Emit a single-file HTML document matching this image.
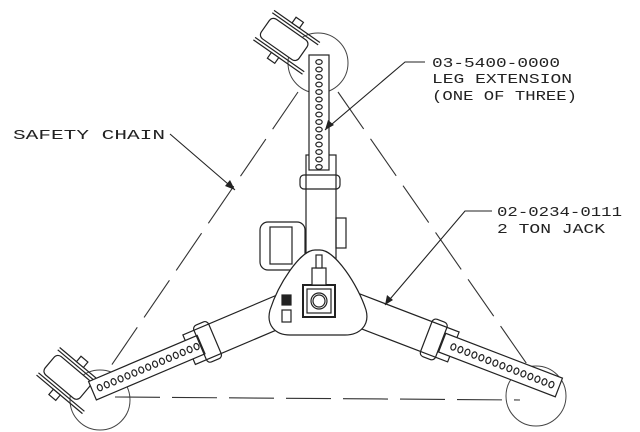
<!DOCTYPE html>
<html><head><style>body{margin:0;background:#fff;overflow:hidden}svg{display:block}</style></head><body>
<svg width="640" height="432" viewBox="0 0 640 432" xmlns="http://www.w3.org/2000/svg">
<defs>
<g id="holes" fill="none" stroke="#222" stroke-width="1.2">
  <ellipse cx="0" cy="0" rx="3.2" ry="2.4"/><ellipse cx="0" cy="7.5" rx="3.2" ry="2.4"/>
  <ellipse cx="0" cy="15" rx="3.2" ry="2.4"/><ellipse cx="0" cy="22.5" rx="3.2" ry="2.4"/>
  <ellipse cx="0" cy="30" rx="3.2" ry="2.4"/><ellipse cx="0" cy="37.5" rx="3.2" ry="2.4"/>
  <ellipse cx="0" cy="45" rx="3.2" ry="2.4"/><ellipse cx="0" cy="52.5" rx="3.2" ry="2.4"/>
  <ellipse cx="0" cy="60" rx="3.2" ry="2.4"/><ellipse cx="0" cy="67.5" rx="3.2" ry="2.4"/>
  <ellipse cx="0" cy="75" rx="3.2" ry="2.4"/><ellipse cx="0" cy="82.5" rx="3.2" ry="2.4"/>
  <ellipse cx="0" cy="90" rx="3.2" ry="2.4"/><ellipse cx="0" cy="97.5" rx="3.2" ry="2.4"/>
  <ellipse cx="0" cy="105" rx="3.2" ry="2.4"/>
</g>
<g id="bracket" fill="#fff" stroke="#222" stroke-width="1.2">
  <line x1="-26" y1="15" x2="34" y2="15"/><line x1="-26" y1="18" x2="34" y2="18"/>
  <line x1="-26" y1="-15" x2="30" y2="-15"/><line x1="-26" y1="-18" x2="30" y2="-18"/>
  <rect x="-24" y="-12" width="46" height="24" rx="5"/>
  <rect x="-4" y="18" width="9" height="7"/><rect x="-4" y="-25" width="9" height="7"/>
</g>
</defs>
<g stroke="#444" stroke-width="1" fill="none">
  <circle cx="318" cy="63" r="30"/>
  <circle cx="100" cy="400" r="30"/>
  <circle cx="536" cy="396" r="30"/>
</g>
<g stroke="#333" stroke-width="1.1" stroke-dasharray="45,12" fill="none">
  <line x1="298" y1="92" x2="100" y2="382"/>
  <line x1="338" y1="92" x2="538" y2="380"/>
  <line x1="115" y1="397" x2="520" y2="400"/>
</g>
<use href="#bracket" transform="translate(285,40) rotate(35)"/>
<use href="#bracket" transform="translate(68,378) rotate(40)"/>
<g fill="#fff" stroke="#222" stroke-width="1.2">
  <g transform="translate(318,295)">
    <rect x="-12" y="-140" width="30" height="110"/>
    <rect x="-9" y="-240" width="20" height="115"/>
    <use href="#holes" transform="translate(1,-233)"/>
    <rect x="-18" y="-120" width="40" height="14" rx="4" fill="none"/>
  </g>
  <g transform="translate(318,295) rotate(-113)">
    <rect x="-16" y="-140" width="32" height="110"/>
    <rect x="-10" y="-245" width="20" height="118"/>
    <use href="#holes" transform="translate(0,-237)"/>
    <rect x="-20" y="-128" width="40" height="16" rx="4" fill="none"/>
  </g>
  <g transform="translate(318,295) rotate(111)">
    <rect x="-16" y="-145" width="32" height="110"/>
    <rect x="-10" y="-258" width="20" height="125"/>
    <use href="#holes" transform="translate(0,-250)"/>
    <rect x="-20" y="-132" width="40" height="16" rx="4" fill="none"/>
  </g>
</g>
<g fill="#fff" stroke="#222" stroke-width="1.2">
  <rect x="260" y="222" width="45" height="48" rx="8"/>
  <rect x="270" y="227" width="22" height="37" fill="none"/>
  <rect x="336" y="218" width="10" height="30" fill="none"/>
  <path d="M315 250 C300 250 278 285 270 310 C266 325 275 335 290 335 L345 335 C360 335 370 325 366 310 C358 285 335 250 320 250 Z"/>
  <rect x="303" y="285" width="32" height="32" stroke-width="2"/>
  <rect x="307" y="289" width="24" height="24"/>
  <circle cx="319" cy="301" r="8"/><circle cx="319" cy="301" r="6"/>
  <rect x="312" y="268" width="14" height="17"/>
  <rect x="316" y="255" width="6" height="13"/>
  <rect x="282" y="295" width="9" height="10" fill="#222"/>
  <rect x="282" y="310" width="9" height="12" fill="none"/>
</g>
<g stroke="#222" stroke-width="1.1" fill="none">
  <polyline points="170,134 235,190"/>
  <polyline points="425,62 405,62 325,130"/>
  <polyline points="492,211 465,211 385,305"/>
</g>
<g fill="#222">
  <polygon points="235,190 225,186 230,180"/>
  <polygon points="325,130 328,120 334,125"/>
  <polygon points="385,305 387,295 393,300"/>
</g>
<g font-family="Liberation Mono, monospace" font-size="14" fill="#222">
  <text x="13" y="139" textLength="152" lengthAdjust="spacingAndGlyphs">SAFETY CHAIN</text>
  <text x="432" y="67" textLength="128" lengthAdjust="spacingAndGlyphs">03-5400-0000</text>
  <text x="432" y="83" textLength="140" lengthAdjust="spacingAndGlyphs">LEG EXTENSION</text>
  <text x="432" y="100" textLength="145" lengthAdjust="spacingAndGlyphs">(ONE OF THREE)</text>
  <text x="497" y="216" textLength="125" lengthAdjust="spacingAndGlyphs">02-0234-0111</text>
  <text x="497" y="233" textLength="108" lengthAdjust="spacingAndGlyphs">2 TON JACK</text>
</g>
</svg>
</body></html>
